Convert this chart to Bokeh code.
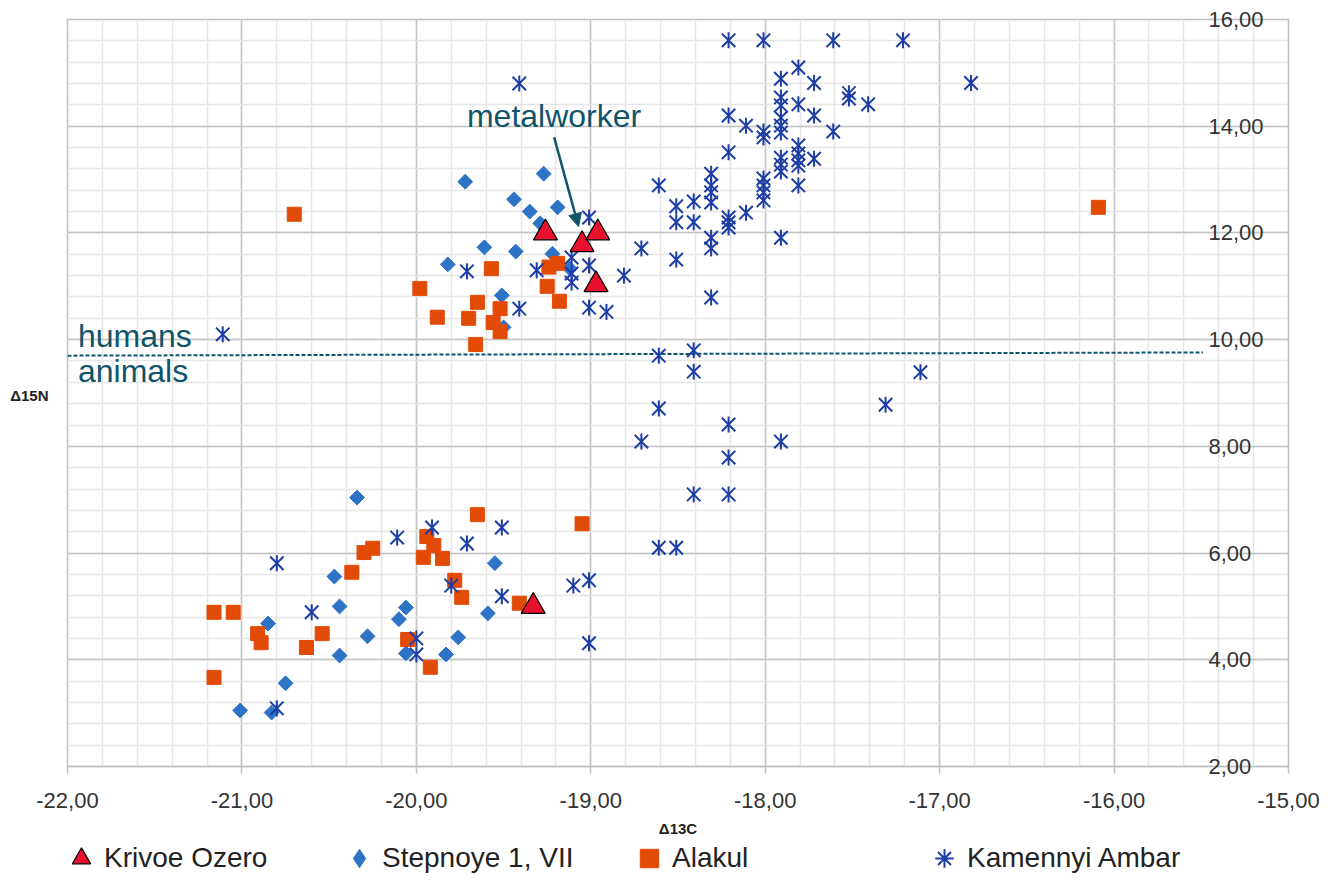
import numpy as np
from bokeh.plotting import figure
from bokeh.layouts import column
from bokeh.models import (Range1d, SingleIntervalTicker, FixedTicker, LinearAxis, Legend,
                          LegendItem, Label, Arrow, NormalHead)
from bokeh.embed import file_html
from bokeh.resources import INLINE

# ---------------- data ----------------
x_ticks = [-22, -21, -20, -19, -18, -17, -16, -15]
x_tick_labels = ["-22,00", "-21,00", "-20,00", "-19,00", "-18,00", "-17,00", "-16,00", "-15,00"]
y_ticks = [2, 4, 6, 8, 10, 12, 14, 16]
y_tick_labels = ["2,00", "4,00", "6,00", "8,00", "10,00", "12,00", "14,00", "16,00"]
series_names = ["Krivoe Ozero", "Stepnoye 1, VII", "Alakul", "Kamennyi Ambar"]

kr_x = [-19.26, -19.05, -18.96, -18.97, -19.33]
kr_y = [12.00, 11.78, 12.00, 11.03, 5.00]

st_x = [-19.72, -19.27, -19.44, -19.35, -19.19, -19.61, -19.43, -19.82, -19.29, -19.22, -19.12,
        -19.51, -19.50,
        -20.34, -20.47, -20.44, -20.85, -20.06, -20.10, -20.28, -20.44, -20.06, -19.83, -19.76,
        -19.55, -19.59, -20.75, -21.01, -20.83]
st_y = [12.96, 13.11, 12.63, 12.40, 12.48, 11.73, 11.65, 11.41, 12.18, 11.61, 11.33,
        10.83, 10.23,
        7.04, 5.56, 5.00, 4.68, 4.98, 4.76, 4.44, 4.08, 4.12, 4.10, 4.42,
        5.81, 4.87, 3.56, 3.05, 3.01]

al_x = [-20.70, -19.98, -19.57, -19.24, -19.19, -19.25, -19.18, -19.65, -19.88, -19.70,
        -19.52, -19.56, -19.52, -19.66, -16.09,
        -21.16, -21.05, -21.16, -20.91, -20.89, -20.63, -20.54, -20.37, -20.30, -20.25,
        -19.96, -19.94, -19.90, -19.85, -20.05, -19.92, -19.78, -19.74, -19.65, -19.05, -19.41]
al_y = [12.35, 10.96, 11.33, 11.36, 11.43, 11.00, 10.72, 10.70, 10.42, 10.40,
        10.58, 10.32, 10.15, 9.91, 12.48,
        4.89, 4.89, 3.67, 4.49, 4.32, 4.23, 4.49, 5.64, 6.01, 6.09,
        5.92, 6.31, 6.14, 5.90, 4.38, 3.86, 5.49, 5.17, 6.72, 6.55, 5.06]

km_x = [-19.41, -18.21, -18.01, -17.61, -17.21, -16.82, -17.81, -17.91, -17.72, -17.52,
        -17.52, -17.41, -17.81, -17.91, -17.91, -17.72, -18.21, -18.11, -18.01, -18.01,
        -17.91, -17.91, -17.61, -18.21, -17.81, -17.81, -17.81, -17.81, -17.72, -17.91,
        -17.91, -17.91, -18.31, -18.61, -18.31, -18.31, -18.31, -18.41, -18.51, -18.51,
        -18.41, -18.21, -18.21, -18.21, -18.11, -18.01, -18.01, -18.01, -18.01, -17.81,
        -17.91, -18.31, -18.31, -18.71, -18.51, -18.81, -18.31, -18.91, -19.01, -19.41,
        -19.01, -19.01, -19.11, -19.11, -19.11, -19.31, -19.71, -21.11, -18.61, -18.41,
        -18.41, -18.61, -18.71, -18.21, -18.21, -17.91, -18.41, -18.21, -17.11, -17.31,
        -18.61, -18.51, -19.91, -19.51, -19.71, -19.80, -19.51, -20.00, -20.00, -19.10,
        -19.01, -19.01, -20.80, -20.60, -20.11, -20.80, -17.91]
km_y = [14.80, 15.61, 15.61, 15.61, 15.61, 14.81, 15.10, 14.89, 14.81, 14.62,
        14.52, 14.41, 14.41, 14.54, 14.39, 14.20, 14.20, 14.01, 13.90, 13.79,
        14.16, 13.88, 13.90, 13.51, 13.64, 13.49, 13.36, 13.26, 13.39, 13.41,
        13.28, 13.15, 13.11, 12.89, 12.89, 12.76, 12.57, 12.59, 12.50, 12.20,
        12.20, 12.29, 12.20, 12.10, 12.38, 13.02, 12.89, 12.76, 12.61, 12.89,
        11.91, 11.91, 11.71, 11.71, 11.50, 11.20, 10.79, 10.52, 10.60, 10.58,
        12.29, 11.39, 11.54, 11.24, 11.07, 11.30, 11.28, 10.10, 9.70, 9.80,
        9.40, 8.71, 8.09, 8.41, 7.79, 8.09, 7.10, 7.10, 9.39, 8.78,
        6.10, 6.10, 6.48, 6.48, 6.18, 5.39, 5.19, 4.40, 4.10, 5.39,
        5.49, 4.31, 5.81, 4.89, 6.29, 3.09, 14.01]

divider_x = [-22.0, -15.49]
divider_y = [9.70, 9.76]
arrow_start = (-19.21, 13.79)
arrow_end = (-19.07, 12.12)

# ---------------- style ----------------
FONT = "Liberation Sans"
TEAL = "#10546A"
RED = "#E8102C"
BLUE = "#2E74C6"
ORANGE = "#E24B05"
NAVY = "#1C3CA6"
TXT = "#333333"

p = figure(width=1331, height=842, x_range=Range1d(-22, -15), y_range=Range1d(2, 16),
           output_backend="svg", toolbar_location=None, y_axis_location="right",
           min_border_left=67, min_border_right=43, min_border_top=19, min_border_bottom=76)
p.outline_line_color = "#bfbfbf"
p.outline_line_width = 1.5
p.background_fill_color = "white"

xt = SingleIntervalTicker(interval=1, num_minor_ticks=5)
yt = SingleIntervalTicker(interval=2, num_minor_ticks=5)
p.xaxis.ticker = xt
p.yaxis.ticker = yt
p.xgrid.ticker = xt
p.ygrid.ticker = yt
for g in (p.xgrid, p.ygrid):
    g.grid_line_color = "#c4c4c4"
    g.grid_line_width = 1.5
    g.minor_grid_line_color = "#e6e6e6"
    g.minor_grid_line_width = 1.5

ax = p.xaxis[0]
ax.major_label_overrides = {float(t): l for t, l in zip(x_ticks, x_tick_labels)}
ax.axis_line_color = "#bfbfbf"
ax.axis_line_width = 1.5
ax.major_tick_line_color = "#bfbfbf"
ax.major_tick_line_width = 1.5
ax.major_tick_out = 7
ax.major_tick_in = 0
ax.minor_tick_line_color = None
ax.major_label_text_font = FONT
ax.major_label_text_font_size = "22px"
ax.major_label_text_color = TXT
ax.major_label_standoff = 19
ax.axis_label = "Δ13C"
ax.axis_label_text_font = FONT
ax.axis_label_text_font_style = "bold"
ax.axis_label_text_font_size = "15px"
ax.axis_label_text_color = "#222222"
ax.axis_label_standoff = 9

# right value axis: labels sit inside the frame, right-aligned against x = -15
ay = p.yaxis[0]
ay.major_label_overrides = {float(t): l for t, l in zip(y_ticks, y_tick_labels)}
ay.axis_line_color = None
ay.major_tick_line_color = None
ay.minor_tick_line_color = None
ay.major_tick_out = 0
ay.major_tick_in = 0
ay.major_label_text_font = FONT
ay.major_label_text_font_size = "22px"
ay.major_label_text_color = TXT
ay.major_label_text_align = "right"
ay.major_label_standoff = -84

# left axis only carries the horizontal "Δ15N" title
ytitle_pos = 8.95
left = LinearAxis(ticker=FixedTicker(ticks=[ytitle_pos]),
                  major_label_overrides={ytitle_pos: "Δ15N"},
                  axis_line_color=None, major_tick_line_color=None, minor_tick_line_color=None,
                  major_tick_out=0, major_tick_in=0, major_label_standoff=19,
                  major_label_text_font=FONT, major_label_text_font_size="15px",
                  major_label_text_font_style="bold", major_label_text_color="#222222")
p.add_layout(left, "left")

# divider line and annotations
p.line(divider_x, divider_y, line_color=TEAL, line_width=2, line_dash="4 2")

p.add_layout(Label(x=-21.94, y=10.07, text="humans", text_font=FONT, text_font_size="32px",
                   text_color=TEAL, text_baseline="middle"))
p.add_layout(Label(x=-21.94, y=9.41, text="animals", text_font=FONT, text_font_size="32px",
                   text_color=TEAL, text_baseline="middle"))
p.add_layout(Label(x=-19.71, y=14.19, text="metalworker", text_font=FONT, text_font_size="32px",
                   text_color=TEAL, text_baseline="middle"))
p.add_layout(Arrow(end=NormalHead(size=13, fill_color=TEAL, line_color=TEAL),
                   x_start=arrow_start[0], y_start=arrow_start[1],
                   x_end=arrow_end[0], y_end=arrow_end[1],
                   line_color=TEAL, line_width=2.5))

# series
dm = p.scatter(st_x, st_y, marker="square", angle=np.pi / 4, size=10.5,
               fill_color=BLUE, line_color=BLUE)
sq = p.scatter(al_x, al_y, marker="square", size=14, fill_color=ORANGE, line_color=ORANGE)
km1 = p.scatter(km_x, km_y, marker="x", size=19, line_color=NAVY, line_width=2)
km2 = p.scatter(km_x, km_y, marker="dash", angle=np.pi / 2, size=16, line_color=NAVY,
                line_width=2)
kr = p.scatter(kr_x, kr_y, marker="triangle", size=24, fill_color=RED, line_color="black",
               line_width=1.2)

# ---------------- legend strip below the chart ----------------
pl = figure(width=1331, height=37, x_range=Range1d(0, 1), y_range=Range1d(0, 1),
            x_axis_location=None, y_axis_location=None,
            min_border_left=60, min_border_right=0, min_border_top=0, min_border_bottom=0,
            output_backend="svg", toolbar_location=None)
pl.outline_line_color = None
pl.xgrid.visible = False
pl.ygrid.visible = False
pl.title.visible = False

# legend-only renderers: their single anchor lies outside the strip's range, so only
# the legend swatches are visible
off = dict(x=[-5], y=[-5])
lg_kr = pl.scatter(**off, marker="triangle", fill_color=RED, line_color="black", line_width=1.2)
lg_st = pl.scatter(**off, marker="diamond", fill_color=BLUE, line_color=BLUE)
lg_al = pl.scatter(**off, marker="square", fill_color=ORANGE, line_color=ORANGE)
lg_km = pl.scatter(**off, marker="asterisk", line_color=NAVY, line_width=2)

legend_x = [-9, 269, 559, 854]
for name, r, lx in zip(series_names, [lg_kr, lg_st, lg_al, lg_km], legend_x):
    lg = Legend(items=[LegendItem(label=name, renderers=[r])],
                orientation="horizontal", glyph_width=46, glyph_height=46,
                label_standoff=0, spacing=0, padding=0, margin=0,
                border_line_color=None, background_fill_alpha=0,
                label_text_font=FONT, label_text_font_size="28px",
                label_text_color="#222222", location=(lx, -2))
    pl.add_layout(lg, "center")

layout = column(p, pl, spacing=0)
open("out.html", "w").write(file_html(layout, INLINE))
